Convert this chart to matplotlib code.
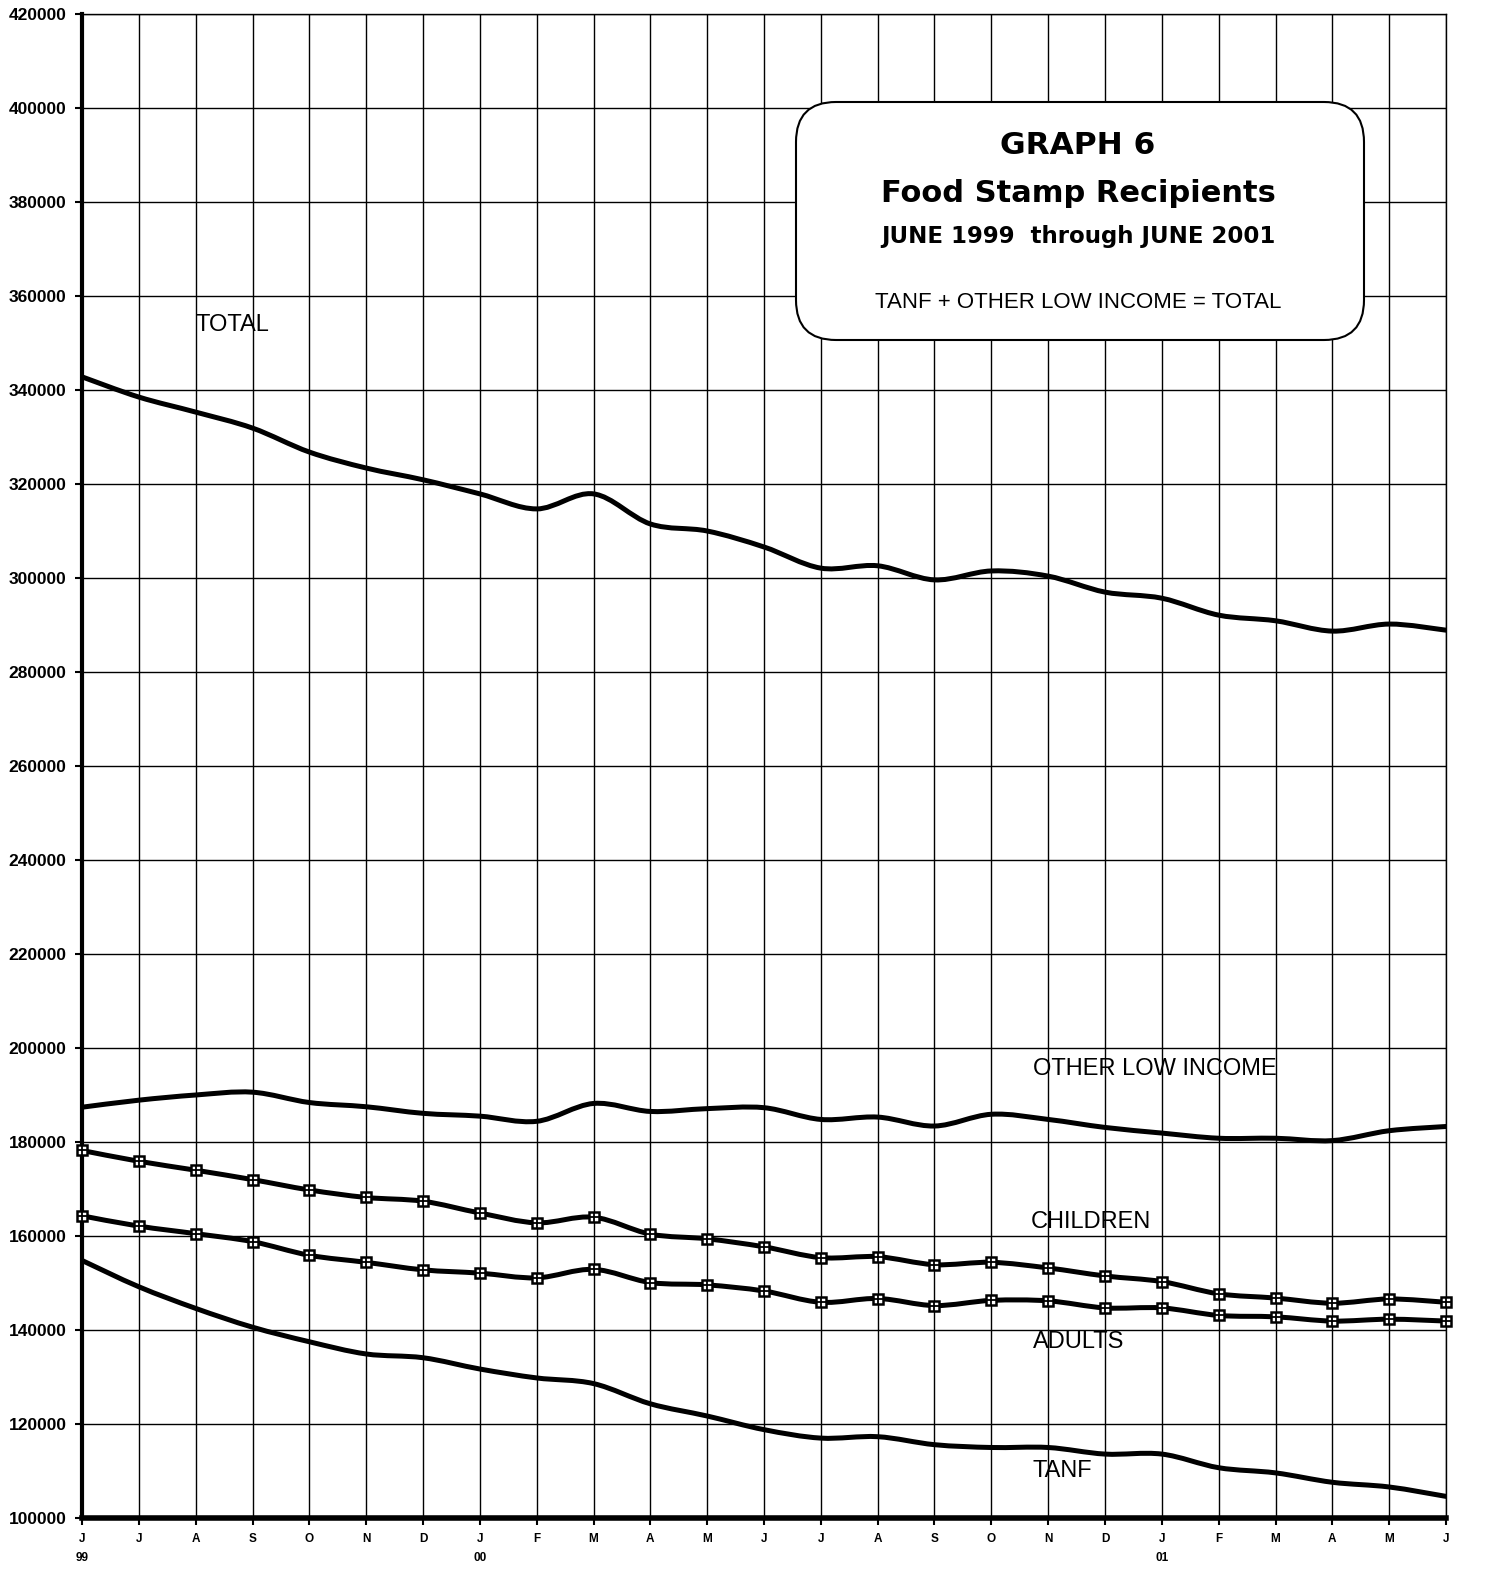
import numpy as np
import matplotlib
matplotlib.use("Agg")
import matplotlib.pyplot as plt
from matplotlib.path import Path
from matplotlib.patches import PathPatch, FancyBboxPatch

plt.rcParams['font.family'] = ['Liberation Sans', 'DejaVu Sans']

# meses junio 1999 .. junio 2001
months = ["J", "J", "A", "S", "O", "N", "D", "J", "F", "M", "A", "M",
          "J", "J", "A", "S", "O", "N", "D", "J", "F", "M", "A", "M", "J"]
years = {0: "99", 7: "00", 19: "01"}

total = [342800, 338500, 335300, 331900, 326800, 323400, 320900, 317900, 314700,
         317900, 311500, 310000, 306600, 302100, 302600, 299600, 301500, 300400,
         297000, 295700, 292100, 290900, 288700, 290200, 288900]
other_low = [187400, 188900, 190000, 190600, 188400, 187500, 186100, 185500, 184400,
             188200, 186500, 187100, 187300, 184800, 185300, 183400, 185900, 184800,
             183100, 181900, 180800, 180800, 180300, 182400, 183300]
children = [178200, 175900, 174000, 172000, 169800, 168200, 167400, 164900, 162800,
            164000, 160400, 159400, 157700, 155400, 155600, 153900, 154400, 153200,
            151500, 150300, 147700, 146800, 145700, 146600, 145900]
adults = [164300, 162100, 160500, 158800, 155900, 154400, 152800, 152100, 151100,
          152900, 150100, 149600, 148300, 145900, 146700, 145200, 146300, 146200,
          144700, 144700, 143100, 142800, 141900, 142300, 141900]
tanf = [154800, 149200, 144600, 140600, 137500, 134900, 134100, 131700, 129800,
        128600, 124300, 121700, 118800, 117000, 117300, 115600, 115000, 115000,
        113600, 113600, 110700, 109600, 107600, 106600, 104600]

W, H = 1486, 1596
fig = plt.figure(figsize=(W / 100, H / 100), dpi=100)
ax = fig.add_axes([82 / W, 1 - 1518 / H, (1446 - 82) / W, (1518 - 14) / H])

x = np.arange(len(months))


def smooth_line(ax, xs, ys, lw=3.6):
    # curva suavizada tipo Excel (bezier catmull-rom)
    pts = np.column_stack([xs, ys]).astype(float)
    verts = [pts[0]]
    codes = [Path.MOVETO]
    n = len(pts)
    for i in range(n - 1):
        p0 = pts[i - 1] if i > 0 else pts[i]
        p1 = pts[i]
        p2 = pts[i + 1]
        p3 = pts[i + 2] if i + 2 < n else pts[i + 1]
        c1 = p1 + (p2 - p0) / 6.0
        c2 = p2 - (p3 - p1) / 6.0
        verts += [c1, c2, p2]
        codes += [Path.CURVE4] * 3
    ax.add_patch(PathPatch(Path(verts, codes), fill=False, lw=lw,
                           edgecolor="black", capstyle="round", zorder=3))


for s in [total, other_low, children, adults, tanf]:
    smooth_line(ax, x, s)

for s in [children, adults]:
    ax.plot(x, s, ls="none", marker="s", ms=7.5, mfc="white", mec="black",
            mew=1.8, zorder=4, clip_on=False)
    ax.plot(x, s, ls="none", marker="+", ms=7.5, mec="black", mew=1.3,
            zorder=5, clip_on=False)

ax.set_xlim(0, len(months) - 1)
ax.set_ylim(100000, 420000)
ax.set_yticks(np.arange(100000, 420001, 20000))
ax.set_yticklabels([str(v) for v in range(100000, 420001, 20000)],
                   fontsize=12.5, fontweight="bold")
ax.set_xticks(x)
ax.set_xticklabels(months, fontsize=8.5, fontweight="bold")
ax.tick_params(axis="both", length=5, width=1.5, direction="out", pad=6)
ax.grid(True, color="black", lw=1.0)
ax.set_axisbelow(True)
for side in ["top", "right"]:
    ax.spines[side].set_linewidth(1.0)
ax.spines["left"].set_linewidth(3)
ax.spines["bottom"].set_linewidth(4)

for i, yr in years.items():
    ax.text(i, -0.0265, yr, transform=ax.get_xaxis_transform(), ha="center",
            va="center", fontsize=8.5, fontweight="bold")

# etiquetas de las series
lab = dict(fontsize=17, ha="left", va="center")
ax.text(2.0, 353800, "TOTAL", **lab)
ax.text(16.73, 195500, "OTHER LOW INCOME", **lab)
ax.text(16.70, 163000, "CHILDREN", **lab)
ax.text(16.73, 137400, "ADULTS", **lab)
ax.text(16.73, 110000, "TANF", **lab)

# recuadro del titulo
box = FancyBboxPatch((7.96, (H - 340) / 100), 5.68, 2.38,
                     boxstyle="round,pad=0,rounding_size=0.4",
                     transform=fig.dpi_scale_trans, facecolor="white",
                     edgecolor="black", lw=1.5, zorder=10)
fig.patches.append(box)
cx = 1078 / W
heavy = ["DejaVu Sans"]
fig.text(cx, 1 - 145 / H, "GRAPH 6", ha="center", va="center", family=heavy,
         fontsize=22.5, fontweight="bold", zorder=11)
fig.text(cx, 1 - 194 / H, "Food Stamp Recipients", ha="center", va="center",
         family=heavy, fontsize=22, fontweight="bold", zorder=11)
fig.text(cx, 1 - 236 / H, "JUNE 1999  through JUNE 2001", ha="center",
         va="center", family=heavy, fontsize=16.5, fontweight="bold", zorder=11)
fig.text(cx, 1 - 303 / H, "TANF + OTHER LOW INCOME = TOTAL", ha="center",
         va="center", fontsize=16, zorder=11)

fig.savefig("out.png", dpi=100)
